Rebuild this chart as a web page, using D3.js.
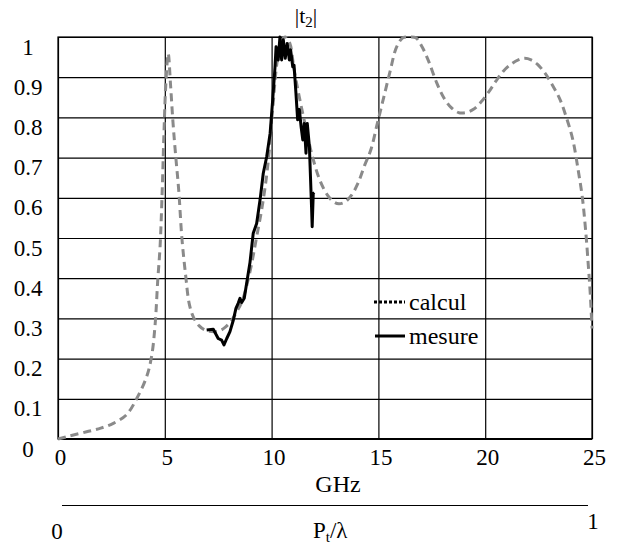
<!DOCTYPE html>
<html><head><meta charset="utf-8">
<script src="https://cdn.jsdelivr.net/npm/d3@7"></script>
<style>
body{margin:0;background:#fff}
svg text{font-family:"Liberation Serif","Times New Roman",Times,serif !important;fill:#000}
</style>
</head><body><svg id="c" width="617" height="546" font-family="Liberation Serif, serif"></svg>
<script>
const xTicks=[0,5,10,15,20,25];
const xTickLabels=["0","5","10","15","20","25"];
const yTicks=[0,0.1,0.2,0.3,0.4,0.5,0.6,0.7,0.8,0.9,1];
const yTickLabels=["0","0.1","0.2","0.3","0.4","0.5","0.6","0.7","0.8","0.9","1"];
const seriesNames=["calcul","mesure"];
const calculX=[0,0.5,1.34,2.0,2.59,3.2,3.68,4.15,4.38,4.54,4.67,4.78,4.88,4.96,5.05,5.16,5.27,5.38,5.5,5.65,5.8,5.97,6.15,6.35,6.6,6.85,7.1,7.35,7.6,7.85,8.1,8.35,8.6,8.85,9.07,9.3,9.55,9.8,10.05,10.25,10.45,10.65,10.85,11.05,11.3,11.6,11.9,12.25,12.6,12.9,13.15,13.45,13.75,14.05,14.35,14.65,14.95,15.25,15.55,15.85,16.15,16.45,16.75,17.05,17.35,17.7,18.05,18.4,18.75,19.1,19.45,19.8,20.15,20.5,20.85,21.2,21.55,21.85,22.15,22.45,22.8,23.15,23.5,23.8,24.1,24.35,24.55,24.7,24.83,24.92,25.0];
const calculY=[0,0.007,0.018,0.027,0.039,0.06,0.10,0.155,0.205,0.28,0.395,0.48,0.62,0.76,0.885,0.959,0.88,0.79,0.71,0.62,0.5,0.41,0.335,0.302,0.282,0.272,0.268,0.267,0.27,0.279,0.293,0.315,0.34,0.385,0.437,0.503,0.575,0.67,0.82,0.935,0.99,1.0,0.985,0.92,0.85,0.775,0.705,0.645,0.608,0.59,0.585,0.59,0.607,0.637,0.68,0.72,0.785,0.85,0.915,0.975,0.998,1.0,0.998,0.975,0.94,0.89,0.85,0.825,0.812,0.812,0.82,0.838,0.862,0.89,0.915,0.932,0.943,0.947,0.943,0.932,0.91,0.88,0.845,0.8,0.745,0.67,0.6,0.52,0.43,0.36,0.275];
const mesureX=[6.96,7.27,7.5,7.66,7.77,7.9,8.05,8.21,8.33,8.44,8.52,8.6,8.72,8.83,8.99,9.14,9.3,9.46,9.61,9.77,9.93,10.05,10.16,10.21,10.31,10.39,10.47,10.55,10.64,10.73,10.83,10.89,10.99,11.05,11.14,11.22,11.3,11.38,11.46,11.53,11.61,11.67,11.77,11.87,11.9,11.95,12.0];
const mesureY=[0.271,0.273,0.25,0.246,0.234,0.25,0.267,0.296,0.325,0.338,0.35,0.34,0.35,0.387,0.44,0.512,0.536,0.595,0.661,0.702,0.76,0.843,0.926,0.976,0.943,1.0,0.943,0.993,0.947,0.984,0.943,0.968,0.926,0.93,0.86,0.794,0.82,0.777,0.744,0.785,0.711,0.785,0.727,0.578,0.528,0.611,0.613];

const FONT="Liberation Serif, Times New Roman, serif";
const L=58,R=592,T=37,B=439;
const svg=d3.select("#c");
const x=d3.scaleLinear().domain([0,25]).range([L,R]);
const y=d3.scaleLinear().domain([0,1]).range([B,T]);

// gridlines
const gx=svg.append("g").attr("transform",`translate(0,${B})`)
  .call(d3.axisBottom(x).tickValues(xTicks).tickSize(-(B-T)).tickFormat(""));
const gy=svg.append("g").attr("transform",`translate(${L},0)`)
  .call(d3.axisLeft(y).tickValues(yTicks).tickSize(-(R-L)).tickFormat(""));
[gx,gy].forEach(g=>{g.select(".domain").remove();g.selectAll("line").attr("stroke","#000").attr("stroke-width",1.2);});
svg.append("line").attr("x1",L).attr("x2",R).attr("y1",B).attr("y2",B).attr("stroke","#000").attr("stroke-width",2.2);
svg.append("rect").attr("x",L).attr("y",T).attr("width",R-L).attr("height",B-T).attr("fill","none").attr("stroke","#000").attr("stroke-width",1.2);

// tick labels
const xl=svg.append("g").attr("transform",`translate(0,${B})`)
  .call(d3.axisBottom(x).tickValues(xTicks).tickSize(0).tickFormat((d,i)=>xTickLabels[i]));
xl.attr("font-family",FONT).attr("font-size",23);
xl.select(".domain").remove();
xl.selectAll("text").attr("y",26).attr("dy",0).attr("dx",2).attr("fill","#000");
const yl=svg.append("g").attr("transform",`translate(${L},0)`)
  .call(d3.axisLeft(y).tickValues(yTicks).tickSize(0).tickFormat((d,i)=>yTickLabels[i]));
yl.attr("font-family",FONT).attr("font-size",23);
yl.select(".domain").remove();
yl.selectAll("text").attr("x",-30).attr("y",17).attr("dy",0).attr("text-anchor","middle").attr("fill","#000");

// series
const calc=calculX.map((v,i)=>[v,calculY[i]]);
const mes=mesureX.map((v,i)=>[v,mesureY[i]]);
const lineC=d3.line().x(d=>x(d[0])).y(d=>y(d[1])).curve(d3.curveCatmullRom);
const lineM=d3.line().x(d=>x(d[0])).y(d=>y(d[1]));
svg.append("path").attr("d",lineC(calc)).attr("fill","none").attr("stroke","#8a8a8a").attr("stroke-width",3).attr("stroke-dasharray","8,5");
svg.append("path").attr("d",lineM(mes)).attr("fill","none").attr("stroke","#000").attr("stroke-width",3).attr("stroke-linejoin","round");

// title
const t=svg.append("text").attr("x",306).attr("y",23).attr("text-anchor","middle").attr("font-family",FONT).attr("font-size",22);
t.append("tspan").text("|t");
t.append("tspan").attr("dy",4).attr("font-size",15).text("2");
t.append("tspan").attr("dy",-4).text("|");

// legend
svg.append("line").attr("x1",374).attr("x2",405).attr("y1",302).attr("y2",302).attr("stroke","#000").attr("stroke-width",3).attr("stroke-dasharray","3,2");
svg.append("line").attr("x1",375).attr("x2",405).attr("y1",336).attr("y2",336).attr("stroke","#000").attr("stroke-width",3);
svg.append("text").attr("x",409).attr("y",310).attr("font-family",FONT).attr("font-size",24).text(seriesNames[0]);
svg.append("text").attr("x",409).attr("y",344).attr("font-family",FONT).attr("font-size",24).text(seriesNames[1]);

// axis title and secondary scale
svg.append("text").attr("x",338).attr("y",492).attr("text-anchor","middle").attr("font-family",FONT).attr("font-size",24).text("GHz");
svg.append("line").attr("x1",62).attr("x2",588).attr("y1",505.5).attr("y2",505.5).attr("stroke","#000").attr("stroke-width",1.2);
svg.append("text").attr("x",57).attr("y",539).attr("text-anchor","middle").attr("font-family",FONT).attr("font-size",23).text("0");
svg.append("text").attr("x",593).attr("y",529).attr("text-anchor","middle").attr("font-family",FONT).attr("font-size",23).text("1");
const p=svg.append("text").attr("x",313).attr("y",538).attr("font-family",FONT).attr("font-size",23);
p.append("tspan").text("P");
p.append("tspan").attr("dy",4).attr("font-size",15).text("t");
p.append("tspan").attr("dy",-4).text("/λ");
</script>
</body></html>
